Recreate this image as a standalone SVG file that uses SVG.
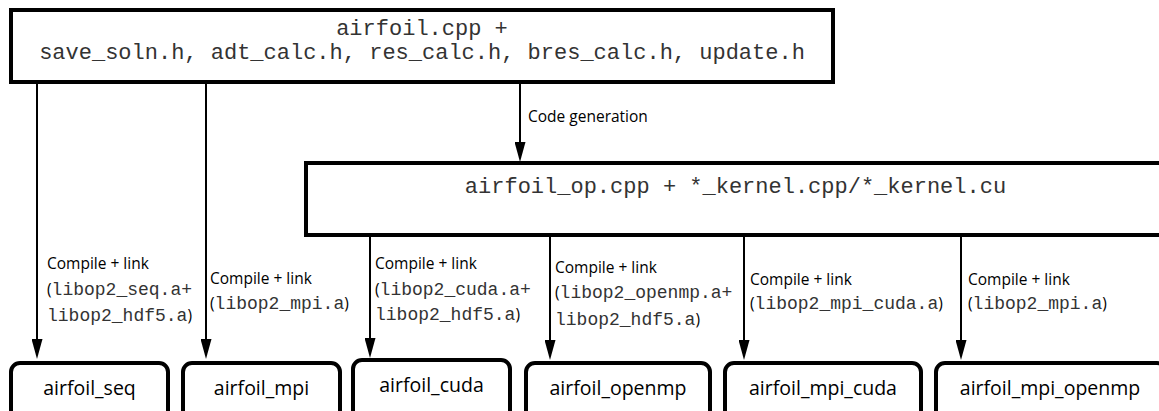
<svg xmlns="http://www.w3.org/2000/svg" width="1159" height="411" viewBox="0 0 1159 411">
<defs>
<marker id="ah" viewBox="0 0 20 11" refX="0" refY="5.5" markerWidth="20" markerHeight="11" markerUnits="userSpaceOnUse" orient="auto">
<path d="M0,0 L20,5.5 L0,11 Z" fill="#000"/>
</marker>
</defs>
<style>
.box{fill:#fff;stroke:#000;stroke-width:4}
.rbox{fill:#fff;stroke:#000;stroke-width:4}
.mono{font-family:"Liberation Mono","Courier New",monospace;fill:#333}
.big{font-size:22px}
.sm{font-size:18px}
.sans{font-family:"Open Sans","Noto Sans",sans-serif;fill:#000}
.lbl{font-size:15.5px}
.nm{font-size:19.5px}
.conn{stroke:#000;stroke-width:2;fill:none;marker-end:url(#ah)}
</style>
<rect width="1159" height="411" fill="#fff"/>
<g id="src">
<rect class="box" x="11" y="10" width="822" height="72"/>
<text class="mono big" x="422" y="35" text-anchor="middle" xml:space="preserve">airfoil.cpp +</text>
<text class="mono big" x="422" y="59" text-anchor="middle" xml:space="preserve">save_soln.h, adt_calc.h, res_calc.h, bres_calc.h, update.h</text>
</g>
<g id="gen">
<rect class="box" x="306" y="163" width="880" height="72"/>
<text class="mono big" x="735.5" y="193" text-anchor="middle">airfoil_op.cpp + *_kernel.cpp/*_kernel.cu</text>
</g>
<g id="connectors">
<line class="conn" x1="37" y1="84" x2="37" y2="339"/>
<line class="conn" x1="206" y1="84" x2="206" y2="339"/>
<line class="conn" x1="520" y1="84" x2="520" y2="142"/>
<line class="conn" x1="370" y1="237" x2="370" y2="338"/>
<line class="conn" x1="550" y1="237" x2="550" y2="340"/>
<line class="conn" x1="744" y1="237" x2="744" y2="340"/>
<line class="conn" x1="961" y1="237" x2="961" y2="340"/>
<text class="sans lbl" x="528" y="122">Code generation</text>
<text class="sans lbl" x="47" y="269">Compile + link</text>
<text x="47" y="295"><tspan class="sans lbl">(</tspan><tspan class="mono sm">libop2_seq.a+</tspan></text>
<text x="47" y="321"><tspan class="mono sm">libop2_hdf5.a</tspan><tspan class="sans lbl">)</tspan></text>
<text class="sans lbl" x="210" y="284">Compile + link</text>
<text x="210" y="309"><tspan class="sans lbl">(</tspan><tspan class="mono sm">libop2_mpi.a</tspan><tspan class="sans lbl">)</tspan></text>
<text class="sans lbl" x="375" y="269">Compile + link</text>
<text x="375" y="295"><tspan class="sans lbl">(</tspan><tspan class="mono sm">libop2_cuda.a+</tspan></text>
<text x="375" y="320"><tspan class="mono sm">libop2_hdf5.a</tspan><tspan class="sans lbl">)</tspan></text>
<text class="sans lbl" x="555" y="273">Compile + link</text>
<text x="555" y="298"><tspan class="sans lbl">(</tspan><tspan class="mono sm">libop2_openmp.a+</tspan></text>
<text x="555" y="325"><tspan class="mono sm">libop2_hdf5.a</tspan><tspan class="sans lbl">)</tspan></text>
<text class="sans lbl" x="750" y="285">Compile + link</text>
<text x="750" y="309"><tspan class="sans lbl">(</tspan><tspan class="mono sm">libop2_mpi_cuda.a</tspan><tspan class="sans lbl">)</tspan></text>
<text class="sans lbl" x="968" y="285">Compile + link</text>
<text x="968" y="309"><tspan class="sans lbl">(</tspan><tspan class="mono sm">libop2_mpi.a</tspan><tspan class="sans lbl">)</tspan></text>
</g>
<g id="airfoil_seq">
<rect class="rbox" x="11" y="363" width="157" height="70" rx="9"/>
<text class="sans nm" x="89.5" y="395" text-anchor="middle">airfoil_seq</text>
</g>
<g id="airfoil_mpi">
<rect class="rbox" x="183" y="363" width="157" height="70" rx="9"/>
<text class="sans nm" x="261.5" y="395" text-anchor="middle">airfoil_mpi</text>
</g>
<g id="airfoil_cuda">
<rect class="rbox" x="353" y="360" width="157" height="70" rx="9"/>
<text class="sans nm" x="431.5" y="392" text-anchor="middle">airfoil_cuda</text>
</g>
<g id="airfoil_openmp">
<rect class="rbox" x="526" y="363" width="184" height="70" rx="9"/>
<text class="sans nm" x="618" y="395" text-anchor="middle">airfoil_openmp</text>
</g>
<g id="airfoil_mpi_cuda">
<rect class="rbox" x="725" y="363" width="196" height="70" rx="9"/>
<text class="sans nm" x="823" y="395" text-anchor="middle">airfoil_mpi_cuda</text>
</g>
<g id="airfoil_mpi_openmp">
<rect class="rbox" x="936" y="363" width="230" height="70" rx="9"/>
<text class="sans nm" x="1050" y="395" text-anchor="middle">airfoil_mpi_openmp</text>
</g>
</svg>
